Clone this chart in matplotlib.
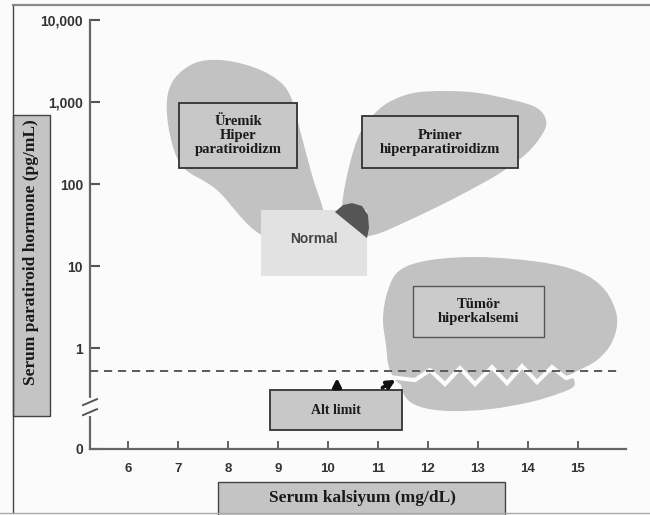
import numpy as np
import matplotlib
matplotlib.use("Agg")
import matplotlib.pyplot as plt
from matplotlib.path import Path
from matplotlib.patches import PathPatch, Rectangle, Polygon

# x = serum calcium (mg/dL), y = log10 of PTH (pg/mL); the "0" row sits at -1.23
X_TICKS = [6, 7, 8, 9, 10, 11, 12, 13, 14, 15]
Y_TICKS = [-1.23, 0, 1, 2, 3, 4]
Y_TICK_LABELS = ["0", "1", "10", "100", "1,000", "10,000"]
LOWER_LIMIT = -0.28

# region outlines
UREMIC_X = [9.84, 8.68, 7.78, 7.10, 6.84, 6.78, 6.94, 7.34, 7.84, 8.44, 8.94, 9.24, 9.44, 9.68, 9.94]
UREMIC_Y = [1.317, 1.378, 1.927, 2.207, 2.598, 3.024, 3.293, 3.476, 3.512, 3.439, 3.293, 3.085, 2.659, 2.110, 1.585]

PRIMARY_X = [10.44, 10.30, 10.30, 10.44, 10.64, 10.94, 11.30, 11.84, 12.84, 13.70,
             14.18, 14.36, 14.30, 13.98, 13.44, 12.84, 12.18, 11.50, 11.04, 10.70]
PRIMARY_Y = [1.341, 1.622, 1.841, 2.256, 2.622, 2.866, 3.024, 3.122, 3.122, 3.024,
             2.927, 2.780, 2.622, 2.378, 2.134, 1.927, 1.720, 1.524, 1.402, 1.354]

TUMOR_X = [11.10, 11.20, 11.44, 12.04, 13.04, 14.24, 15.04, 15.54, 15.78, 15.68,
           15.38, 14.94, 14.34, 12.44, 11.54, 11.24, 11.16]
TUMOR_Y = [0.366, 0.707, 0.951, 1.073, 1.110, 1.049, 0.927, 0.707, 0.378, 0.073,
           -0.146, -0.293, -0.463, -0.488, -0.463, -0.268, 0.037]

TUMOR_LOW_X = [11.46, 11.52, 12.04, 13.44, 14.64, 14.88, 14.92, 14.64, 14.04, 13.24, 12.50, 11.94, 11.60]
TUMOR_LOW_Y = [-0.451, -0.293, -0.220, -0.195, -0.220, -0.341, -0.463, -0.549, -0.659, -0.744, -0.768, -0.732, -0.634]

ZIGZAG_X = [11.24, 11.74, 12.04, 12.34, 12.64, 12.94, 13.28, 13.58, 13.88, 14.18, 14.48, 14.76, 15.24]
ZIGZAG_Y = [-0.354, -0.390, -0.268, -0.439, -0.244, -0.439, -0.232, -0.427, -0.220, -0.415, -0.232, -0.366, -0.268]

OVERLAP_X = [10.14, 10.30, 10.48, 10.68, 10.80, 10.82, 10.78]
OVERLAP_Y = [1.659, 1.744, 1.768, 1.732, 1.622, 1.463, 1.341]

# label boxes: (x0, x1, y0, y1)
UREMIC_BOX = (7.02, 9.38, 2.195, 2.988)
PRIMARY_BOX = (10.68, 13.80, 2.195, 2.829)
NORMAL_BOX = (8.66, 10.78, 0.878, 1.683)
TUMOR_BOX = (11.70, 14.32, 0.134, 0.756)
LIMIT_BOX = (8.84, 11.48, -1.0, -0.512)

BG = "#fbfbfb"
BLOB = "#c2c2c2"


def smooth_closed(xs, ys):
    pts = np.column_stack([xs, ys])
    n = len(pts)
    verts = [pts[0]]
    codes = [Path.MOVETO]
    for i in range(n):
        p0, p1, p2, p3 = pts[i - 1], pts[i], pts[(i + 1) % n], pts[(i + 2) % n]
        verts += [p1 + (p2 - p0) / 6, p2 - (p3 - p1) / 6, p2]
        codes += [Path.CURVE4] * 3
    return Path(verts, codes)


def label_box(ax, box, text, face="#c8c8c8", edge="#333333", size=10.5, family="Liberation Serif",
              weight="bold", color="#1a1a1a", lw=1.3):
    x0, x1, y0, y1 = box
    ax.add_patch(Rectangle((x0, y0), x1 - x0, y1 - y0, facecolor=face,
                           edgecolor=edge, linewidth=lw, zorder=4))
    ax.text((x0 + x1) / 2, (y0 + y1) / 2, text, ha="center", va="center", fontsize=size,
            family=family, weight=weight, color=color, linespacing=1.1, zorder=5)


fig = plt.figure(figsize=(6.5, 5.15), dpi=100, facecolor=BG)
ax = fig.add_axes([90 / 650, 1 - 449 / 515, 536 / 650, 429 / 515])
ax.set_facecolor("none")
ax.set_xlim(5.24, 15.96)
ax.set_ylim(-1.23, 4.0)

# regions
ax.add_patch(PathPatch(smooth_closed(UREMIC_X, UREMIC_Y), facecolor=BLOB, edgecolor="none", zorder=1))
ax.add_patch(PathPatch(smooth_closed(PRIMARY_X, PRIMARY_Y), facecolor=BLOB, edgecolor="none", zorder=1))
ax.add_patch(PathPatch(smooth_closed(TUMOR_X, TUMOR_Y), facecolor=BLOB, edgecolor="none", zorder=1))
ax.add_patch(PathPatch(smooth_closed(TUMOR_LOW_X, TUMOR_LOW_Y), facecolor=BLOB, edgecolor="none", zorder=1))
ax.plot(ZIGZAG_X, ZIGZAG_Y, color=BG, lw=3.0, solid_joinstyle="miter", zorder=2)

# normal range and overlap with primary hyperparathyroidism
x0, x1, y0, y1 = NORMAL_BOX
ax.add_patch(Rectangle((x0, y0), x1 - x0, y1 - y0, facecolor="#e2e2e2", edgecolor="none", zorder=3))
ax.text((x0 + x1) / 2, (y0 + y1) / 2 + 0.05, "Normal", ha="center", va="center", fontsize=10,
        family="Liberation Sans", weight="bold", color="#444444", zorder=5)
ax.add_patch(Polygon(np.column_stack([OVERLAP_X, OVERLAP_Y]), closed=True,
                     facecolor="#555555", edgecolor="none", zorder=3))

label_box(ax, UREMIC_BOX, "Üremik\nHiper\nparatiroidizm")
label_box(ax, PRIMARY_BOX, "Primer\nhiperparatiroidizm")
label_box(ax, TUMOR_BOX, "Tümör\nhiperkalsemi", face="#cbcbcb", edge="#555555", lw=1.0)
label_box(ax, LIMIT_BOX, "Alt limit", size=10)

# lower detection limit
ax.axhline(LOWER_LIMIT, xmin=0, xmax=(15.78 - 5.24) / (15.96 - 5.24), color="#5a5a5a",
           lw=1.4, dashes=(4.2, 3), zorder=6)
ax.annotate("", xy=(10.18, -0.33), xytext=(10.18, -0.51),
            arrowprops=dict(arrowstyle="-|>", color="#111111", lw=2.6, mutation_scale=12), zorder=6)
ax.annotate("", xy=(11.40, -0.37), xytext=(11.04, -0.50),
            arrowprops=dict(arrowstyle="-|>", color="#111111", lw=2.6, mutation_scale=12), zorder=6)

# axes styling
for side in ("top", "right"):
    ax.spines[side].set_visible(False)
for side in ("left", "bottom"):
    ax.spines[side].set_color("#666666")
    ax.spines[side].set_linewidth(1.6)
ax.set_xticks(X_TICKS)
ax.set_yticks(Y_TICKS)
ax.set_yticklabels(Y_TICK_LABELS)
ax.tick_params(axis="y", direction="in", length=7, width=1.5, color="#555555", pad=5,
               labelsize=10, labelcolor="#333333")
ax.tick_params(axis="x", direction="in", length=6, width=1.3, color="#555555", pad=10,
               labelsize=9.5, labelcolor="#333333")
for lab in ax.get_xticklabels() + ax.get_yticklabels():
    lab.set_family("Liberation Sans")
    lab.set_weight("bold")

# axis break marks
ax.plot([5.24, 5.24], [-0.63, -0.80], color=BG, lw=3, clip_on=False, zorder=7)
ax.plot([5.10, 5.38], [-0.695, -0.622], color="#555555", lw=1.4, clip_on=False, zorder=8)
ax.plot([5.10, 5.38], [-0.817, -0.744], color="#555555", lw=1.4, clip_on=False, zorder=8)

# axis title boxes
fig.add_artist(Rectangle((13 / 650, 1 - 416 / 515), 37 / 650, 301 / 515, transform=fig.transFigure,
                         facecolor="#c4c4c4", edgecolor="#444444", lw=1.0))
fig.text(31.5 / 650, 1 - 252 / 515, "Serum paratiroid hormone (pg/mL)", rotation=90,
         ha="center", va="center", fontsize=12.5, family="Liberation Serif", weight="bold",
         color="#1a1a1a")
fig.add_artist(Rectangle((218 / 650, -0.02), 287 / 650, (1 - 482 / 515) + 0.02,
                         transform=fig.transFigure, facecolor="#c4c4c4", edgecolor="#444444", lw=1.0))
fig.text(362 / 650, 1 - 498 / 515, "Serum kalsiyum (mg/dL)", ha="center", va="center",
         fontsize=12.5, family="Liberation Serif", weight="bold", color="#1a1a1a")

# picture frame
fig.add_artist(plt.Line2D([13 / 650, 13 / 650], [1 - 5 / 515, 1 - 513 / 515], transform=fig.transFigure,
                          color="#444444", lw=1.0))
fig.add_artist(plt.Line2D([13 / 650, 1], [1 - 5 / 515, 1 - 5 / 515], transform=fig.transFigure,
                          color="#888888", lw=1.6))
fig.add_artist(plt.Line2D([0, 1], [1 - 513 / 515, 1 - 513 / 515], transform=fig.transFigure,
                          color="#aaaaaa", lw=1.0))

fig.savefig("out.png", dpi=100, facecolor=BG)
